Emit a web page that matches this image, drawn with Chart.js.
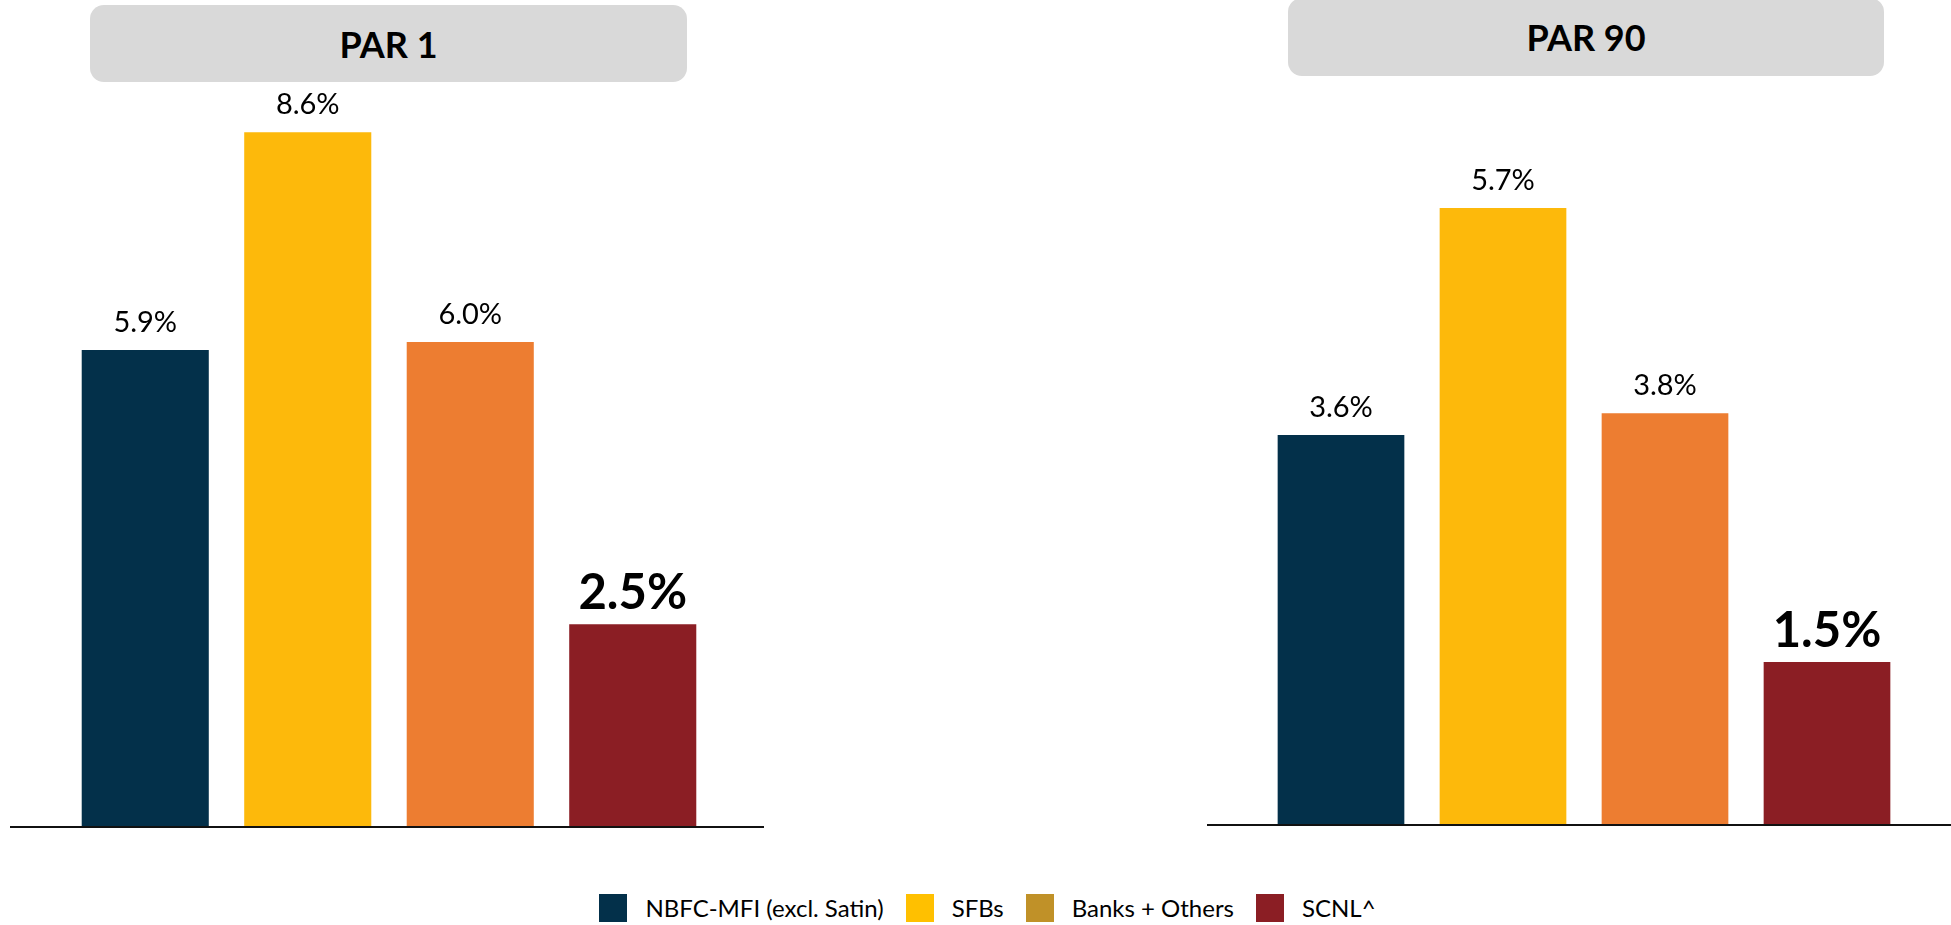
<!DOCTYPE html>
<html>
<head>
<meta charset="utf-8">
<script src="https://cdn.jsdelivr.net/npm/chart.js@4/dist/chart.umd.min.js"></script>
<style>
  html, body { margin: 0; padding: 0; background: #fff; }
  body { width: 1951px; height: 925px; position: relative; overflow: hidden; font-family: Lato, "Noto Sans", sans-serif; }
  .wrap { position: absolute; }
  .title {
    position: absolute; background: #d9d9d9; border-radius: 14px;
    display: flex; align-items: center; justify-content: center;
    font-weight: bold; font-size: 36px; color: #000; z-index: 2;
  }
  #legend {
    position: absolute; left: 12px; top: 893px; width: 1951px;
    display: flex; justify-content: center; align-items: center;
    font-size: 24px; color: #000;
  }
  #legend .item { display: flex; align-items: center; margin: 0 11px; }
  #legend .box { width: 28px; height: 28px; margin-right: 18px; }
</style>
</head>
<body>
<div class="title" style="left:90px; top:5px; width:597px; height:77px;">PAR 1</div>
<div class="title" style="left:1288px; top:-2px; width:596px; height:78px;">PAR 90</div>

<div class="wrap" style="left:10px; top:0; width:754px; height:830px;"><canvas id="par1"></canvas></div>
<div class="wrap" style="left:1207px; top:0; width:744px; height:828px;"><canvas id="par90"></canvas></div>

<div id="legend"></div>

<script>
const categories = ['NBFC-MFI (excl. Satin)', 'SFBs', 'Banks + Others', 'SCNL^'];
const par1Values = [5.9, 8.6, 6.0, 2.5];
const par90Values = [3.6, 5.7, 3.8, 1.5];
const barColors = ['#03304a', '#fdb90b', '#ed7d31', '#8b1e24'];
const legendColors = ['#03304a', '#ffc000', '#c09128', '#8b1e24'];

// value labels above each bar, last one (SCNL) big and bold
const valueLabels = {
    id: 'valueLabels',
    afterDatasetsDraw(chart) {
        const ctx = chart.ctx;
        const meta = chart.getDatasetMeta(0);
        const vals = chart.data.datasets[0].data;
        ctx.save();
        ctx.fillStyle = '#000';
        ctx.textAlign = 'center';
        ctx.textBaseline = 'alphabetic';
        meta.data.forEach((bar, i) => {
            const last = i === vals.length - 1;
            ctx.font = last ? 'bold 49px Lato, "Noto Sans", sans-serif' : '29px Lato, "Noto Sans", sans-serif';
            ctx.fillText(vals[i].toFixed(1) + '%', bar.x, bar.y - (last ? 15 : 18));
        });
        ctx.restore();
    }
};

// baseline across the whole canvas width
const baseLine = {
    id: 'baseLine',
    afterDraw(chart) {
        const ctx = chart.ctx;
        const y = chart.chartArea.bottom + 1;
        ctx.save();
        ctx.strokeStyle = '#111';
        ctx.lineWidth = 2;
        ctx.beginPath();
        ctx.moveTo(0, y);
        ctx.lineTo(chart.width, y);
        ctx.stroke();
        ctx.restore();
    }
};

function makeChart(id, values, yMax, pad) {
    new Chart(document.getElementById(id).getContext('2d'), {
        type: 'bar',
        data: {
            labels: categories,
            datasets: [{
                data: values,
                backgroundColor: barColors,
                borderWidth: 0,
                categoryPercentage: 1.0,
                barPercentage: 0.782
            }]
        },
        options: {
            responsive: true,
            maintainAspectRatio: false,
            animation: false,
            layout: { padding: pad },
            plugins: { legend: { display: false }, tooltip: { enabled: false } },
            scales: {
                x: { display: false },
                y: { display: false, min: 0, max: yMax }
            }
        },
        plugins: [valueLabels, baseLine]
    });
}

makeChart('par1', par1Values, 9.0, { left: 54, right: 50, top: 100, bottom: 4 });
makeChart('par90', par90Values, 6.7, { left: 53, right: 43, top: 100, bottom: 4 });

// legend
const legend = document.getElementById('legend');
categories.forEach((c, i) => {
    const item = document.createElement('div');
    item.className = 'item';
    const box = document.createElement('div');
    box.className = 'box';
    box.style.background = legendColors[i];
    const txt = document.createElement('span');
    txt.textContent = c;
    item.appendChild(box);
    item.appendChild(txt);
    legend.appendChild(item);
});
</script>
</body>
</html>
